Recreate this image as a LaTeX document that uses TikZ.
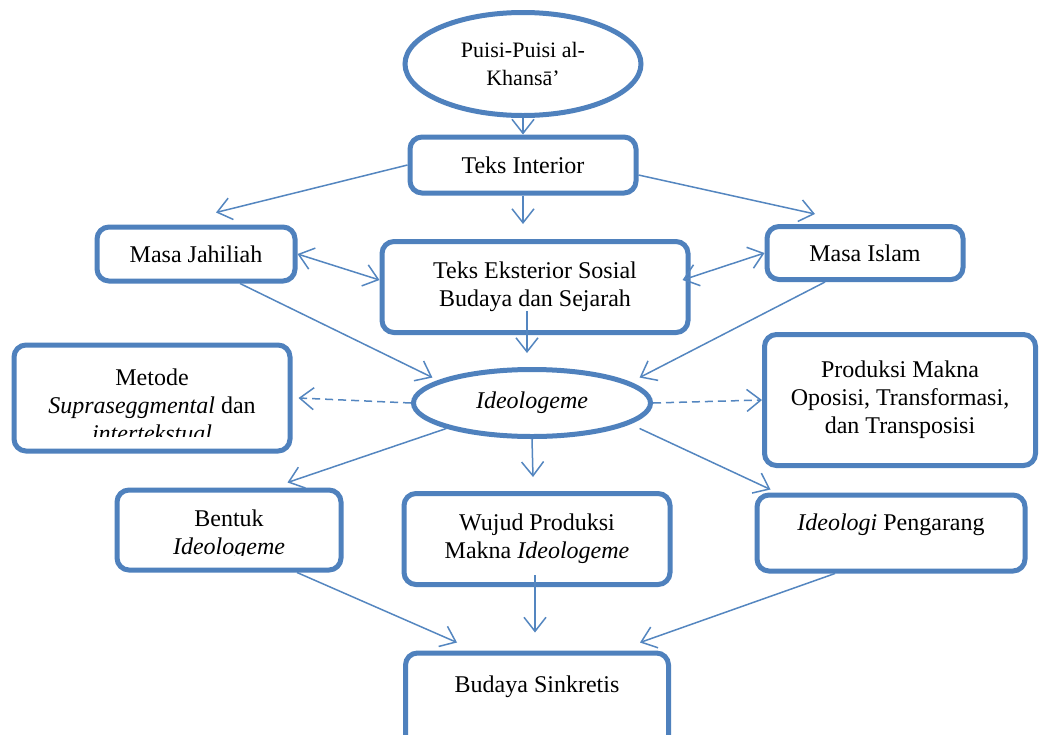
\documentclass[tikz,border=0pt]{standalone}
\usepackage{fontspec}
\setmainfont{Liberation Serif}
\usetikzlibrary{shapes.geometric,arrows.meta}
\definecolor{garisbiru}{RGB}{79,129,189}
\definecolor{panahbiru}{RGB}{84,134,192}

\begin{document}
\begin{tikzpicture}[x=0.5pt,y=-0.5pt]
  \useasboundingbox[fill=white] (0,0) rectangle (1039,734);
  \tikzstyle{kotak}=[rectangle,draw=garisbiru,line width=2.5pt,rounded corners=6pt,fill=white,align=center,inner sep=0pt,font=\fontsize{12}{14}\selectfont]
  \tikzstyle{elips}=[ellipse,draw=garisbiru,line width=2.5pt,fill=white,align=center,inner sep=0pt]
  \tikzstyle{teks}=[align=center,inner sep=0pt,font=\fontsize{12}{14}\selectfont]
  \tikzstyle{panah}=[draw=panahbiru,line width=0.75pt,-{Straight Barb[length=7pt,width=11pt]}]
  \tikzstyle{panahdua}=[panah,{Straight Barb[length=7pt,width=11pt]}-{Straight Barb[length=7pt,width=11pt]}]
  \tikzstyle{putus}=[panah,dash pattern=on 4pt off 2.5pt]

%% level atas
  \node[elips,minimum width=118pt,minimum height=51.5pt,font=\fontsize{11}{14}\selectfont] (puisi) at (523,64) {Puisi-Puisi al-\\Khansā’};
  \node[kotak,minimum width=113pt,minimum height=28pt] (interior)  at (523,165) {Teks Interior};
  \node[kotak,minimum width=99pt,minimum height=27pt]  (jahiliah)  at (196,254) {Masa Jahiliah};
  \node[kotak,minimum width=153pt,minimum height=45.5pt] (eksterior) at (535,287) {Teks Eksterior Sosial\\Budaya dan Sejarah};
  \node[kotak,minimum width=98pt,minimum height=26.5pt] (islam)     at (865,253) {Masa Islam};

%% level tengah
  \node[kotak,minimum width=138pt,minimum height=53pt] (metode) at (152,398) {};
  \begin{scope}
    \clip (20,350) rectangle (285,436);
    \node[teks] (metode-teks) at (152,405) {Metode\\\textit{Supraseggmental} dan\\\textit{intertekstual}};
  \end{scope}
  \node[elips,minimum width=118.5pt,minimum height=33.5pt,font=\fontsize{12}{14}\selectfont\itshape] (ideologeme) at (532,403) {Ideologeme};
  \node[kotak,minimum width=135.5pt,minimum height=65.5pt] (produksi) at (900,400) {Produksi Makna\\Oposisi, Transformasi,\\dan Transposisi};

%% level bawah
  \node[kotak,minimum width=112pt,minimum height=40pt] (bentuk) at (229,530) {};
  \begin{scope}
    \clip (125,495) rectangle (335,555);
    \node[teks] (bentuk-teks) at (229,535) {Bentuk\\\textit{Ideologeme}};
  \end{scope}
  \node[kotak,minimum width=133pt,minimum height=45.5pt] (wujud) at (537,539) {Wujud Produksi\\Makna \textit{Ideologeme}};
  \node[kotak,minimum width=134pt,minimum height=38pt] (pengarang) at (891,533) {};
  \node[teks] (pengarang-teks) at (891,525) {\textit{Ideologi} Pengarang};
  \node[kotak,minimum width=131.5pt,minimum height=47pt] (budaya) at (537,700) {};
  \node[teks] (budaya-teks) at (537,687) {Budaya Sinkretis};

%% draw connections
  \draw[panah] (puisi.south) -- (interior.north);
  \draw[panah] (interior.west) -- ([xshift=10pt,yshift=6pt] jahiliah.north);
  \draw[panah] (interior.south) -- ([xshift=-6pt,yshift=7.5pt] eksterior.north);
  \draw[panah] ([yshift=-5pt] interior.east) -- ([xshift=-25pt,yshift=5pt] islam.north);
  \draw[panahdua] (jahiliah.east) -- ([yshift=3.5pt] eksterior.west);
  \draw[panahdua] (islam.west) -- ([xshift=-4pt,yshift=3.5pt] eksterior.east);

%% menuju ideologeme
  \draw[panah] ([xshift=22pt] jahiliah.south) -- ([xshift=-7pt] ideologeme.north west);
  \draw[panah] ([xshift=-4pt,yshift=12pt] eksterior.south) -- ([xshift=-2.5pt,yshift=7pt] ideologeme.north);
  \draw[panah] ([xshift=-20pt] islam.south) -- ([xshift=11pt] ideologeme.north east);
  \draw[putus] (ideologeme.west) -- ([xshift=3pt] metode.east);
  \draw[putus] (ideologeme.east) -- (produksi.west);

%% dari ideologeme
  \draw[panah] (ideologeme.south west) -- ([xshift=-28pt,yshift=2.5pt] bentuk.north east);
  \draw[panah] (ideologeme.south) -- ([xshift=-2pt,yshift=7pt] wujud.north);
  \draw[panah] ([xshift=11pt] ideologeme.south east) -- ([xshift=8pt,yshift=1.5pt] pengarang.north west);

%% menuju budaya sinkretis
  \draw[panah] ([xshift=34pt] bentuk.south) -- ([xshift=-40pt,yshift=4pt] budaya.north);
  \draw[panah] ([xshift=-1pt,yshift=6pt] wujud.south) -- ([xshift=-1pt,yshift=9pt] budaya.north);
  \draw[panah] ([xshift=-28pt] pengarang.south) -- ([xshift=51.5pt,yshift=4pt] budaya.north);
\end{tikzpicture}
\end{document}
